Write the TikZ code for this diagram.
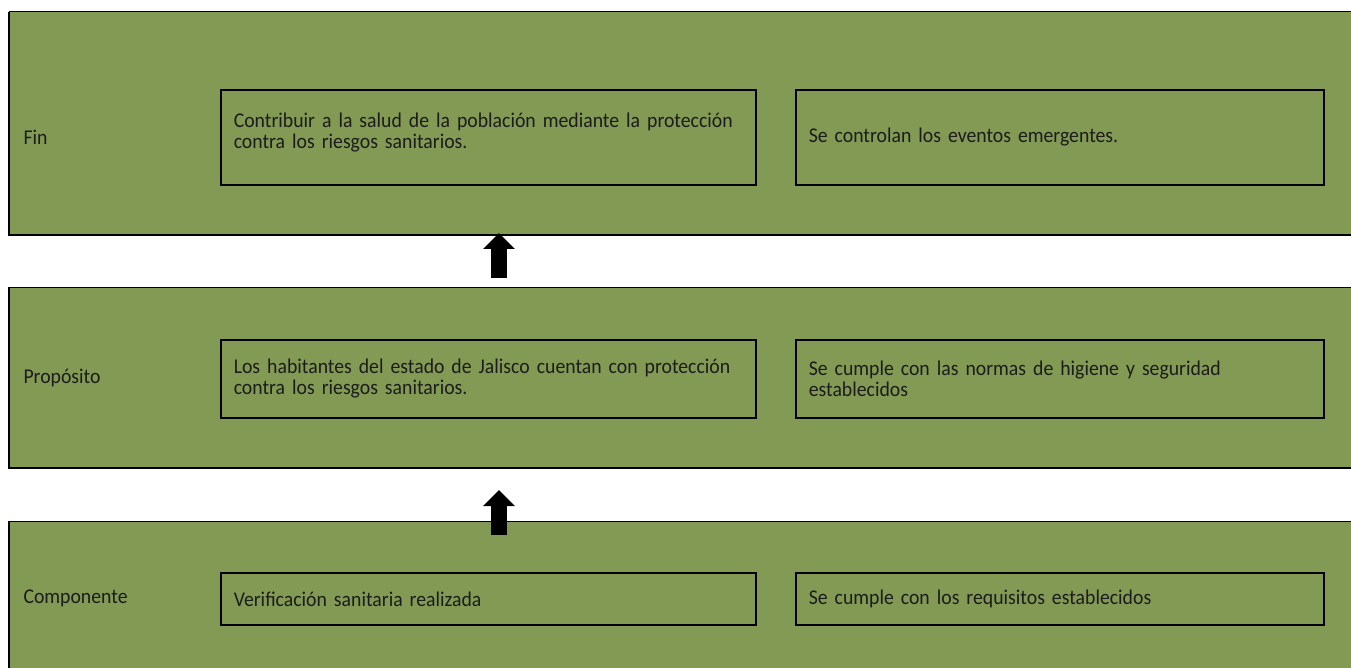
\documentclass[tikz,border=0pt]{standalone}
\usepackage{fontspec}
\setmainfont[FakeStretch=0.94]{Carlito}
\usetikzlibrary{arrows.meta}
\definecolor{olivo}{RGB}{131,154,84}
\definecolor{tinta}{RGB}{28,28,28}

\begin{document}
\begin{tikzpicture}[x=1pt, y=-1pt,
		every node/.style={font=\fontsize{21}{21}\selectfont, text=tinta},
		borde/.style={draw=black, line width=2pt},
		caja/.style={draw=black, line width=1.6pt, inner sep=0pt, anchor=north west, align=left},
		flecha/.style={line width=16pt, -{Triangle[width=31pt,length=16pt]}}]
	\useasboundingbox (0,0) rectangle (1351,668);
	% franjas
	\foreach \t/\b [count=\i] in {12/235, 287/468, 521/680}{
		\fill[olivo] (9,\t) rectangle (1360,\b);
		\draw[black, line width=1pt] (9,\t) -- (1360,\t);
		\draw[borde] (9,\t) -- (9,\b) -- (1360,\b);
	}
	% etiquetas
	\node[anchor=west] (fin) at (20,137) {Fin};
	\node[anchor=west] (proposito) at (20,378) {Propósito};
	\node[anchor=west] (componente) at (20,598) {Componente};
	% cajas
	\node[caja, minimum width=535pt, minimum height=95pt, text width=509pt] (fin1) at (220,89)
		{Contribuir a la salud de la población mediante la protección\\contra los riesgos sanitarios.\\[-7pt]\mbox{}};
	\node[caja, minimum width=528pt, minimum height=95pt, text width=502pt] (fin2) at (795,89)
		{Se controlan los eventos emergentes.};
	\node[caja, minimum width=535pt, minimum height=78pt, text width=509pt] (prop1) at (220,339)
		{Los habitantes del estado de Jalisco cuentan con protección\\contra los riesgos sanitarios.};
	\node[caja, minimum width=528pt, minimum height=78pt, text width=502pt] (prop2) at (795,339)
		{Se cumple con las normas de higiene y seguridad\\establecidos};
	\node[caja, minimum width=535pt, minimum height=52pt, text width=509pt] (comp1) at (220,572)
		{Verificación sanitaria realizada};
	\node[caja, minimum width=528pt, minimum height=52pt, text width=502pt] (comp2) at (795,572)
		{Se cumple con los requisitos establecidos};
	% flechas
	\coordinate (f1a) at (499,278);
	\coordinate (f1b) at (499,233);
	\coordinate (f2a) at (499,535);
	\coordinate (f2b) at (499,490);
	\draw[flecha] (f1a) -- (f1b);
	\draw[flecha] (f2a) -- (f2b);
\end{tikzpicture}
\end{document}
